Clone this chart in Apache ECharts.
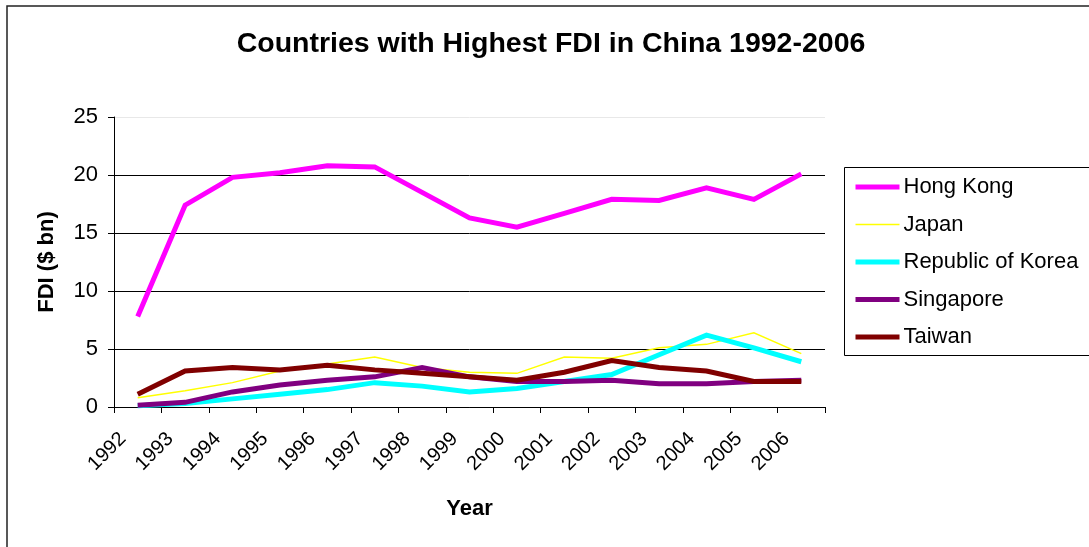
<!DOCTYPE html>
<html>
<head>
<meta charset="utf-8">
<script src="https://cdn.jsdelivr.net/npm/echarts@6/dist/echarts.min.js"></script>
<style>
  html, body { margin: 0; padding: 0; background: #fff; }
  #chart { width: 1089px; height: 547px; }
</style>
</head>
<body>
<div id="chart"></div>
<script>
// FDI into China by source economy, $ bn
const years = ['1992','1993','1994','1995','1996','1997','1998','1999','2000','2001','2002','2003','2004','2005','2006'];
const hongKong  = [7.8, 17.4, 19.8, 20.2, 20.8, 20.7, 18.5, 16.3, 15.5, 16.7, 17.9, 17.8, 18.9, 17.9, 20.1];
const japan     = [0.8, 1.4, 2.1, 3.1, 3.7, 4.3, 3.4, 3.0, 2.9, 4.3, 4.2, 5.1, 5.4, 6.4, 4.6];
const korea     = [0.1, 0.3, 0.7, 1.1, 1.5, 2.1, 1.8, 1.3, 1.6, 2.2, 2.8, 4.5, 6.2, 5.1, 3.9];
const singapore = [0.15, 0.4, 1.3, 1.9, 2.3, 2.6, 3.4, 2.6, 2.2, 2.2, 2.3, 2.0, 2.0, 2.2, 2.3];
const taiwan    = [1.1, 3.1, 3.4, 3.2, 3.6, 3.2, 2.9, 2.6, 2.3, 3.0, 4.0, 3.4, 3.1, 2.2, 2.2];
const yTicks    = [0, 5, 10, 15, 20, 25];

const FONT = "'Liberation Sans', Arial, sans-serif";

const seriesDefs = [
  { name: 'Hong Kong',         data: hongKong,  color: '#FF00FF', width: 5 },
  { name: 'Japan',             data: japan,     color: '#FFFF00', width: 1.5 },
  { name: 'Republic of Korea', data: korea,     color: '#00FFFF', width: 5 },
  { name: 'Singapore',         data: singapore, color: '#800080', width: 5 },
  { name: 'Taiwan',            data: taiwan,    color: '#800000', width: 5 }
];

const chart = echarts.init(document.getElementById('chart'), null, { renderer: 'canvas' });
chart.setOption({
  backgroundColor: '#fff',
  animation: false,
  graphic: [
    {
      // outer chart frame, running off the right and bottom of the page
      type: 'rect',
      shape: { x: 7, y: 6, width: 1100, height: 560 },
      style: { fill: 'none', stroke: '#222', lineWidth: 1.5 },
      z: -1
    },
    {
      // legend frame, running off the right edge
      type: 'rect',
      shape: { x: 844.5, y: 167.5, width: 300, height: 188 },
      style: { fill: 'none', stroke: '#000', lineWidth: 1 },
      z: 10
    }
  ],
  title: {
    text: 'Countries with Highest FDI in China 1992-2006',
    left: 546,
    top: 24,
    textAlign: 'center',
    textStyle: { fontFamily: FONT, fontSize: 28.5, fontWeight: 'bold', color: '#000', lineHeight: 30 }
  },
  grid: { left: 114, right: 264, top: 117, bottom: 140, containLabel: false },
  legend: {
    orient: 'vertical',
    left: 844,
    top: 167,
    padding: [7, 10, 5, 9],
    itemGap: 11.5,
    itemWidth: 44,
    itemHeight: 14,
    borderWidth: 0,
    itemStyle: { opacity: 0 },
    textStyle: { fontFamily: FONT, fontSize: 22, color: '#000', lineHeight: 26, padding: [0, 0, 0, -1] },
    data: seriesDefs.map(s => ({
      name: s.name,
      lineStyle: { color: s.color, width: s.width }
    }))
  },
  xAxis: {
    type: 'category',
    data: years,
    boundaryGap: true,
    name: 'Year',
    nameLocation: 'middle',
    nameGap: 91,
    nameTextStyle: { fontFamily: FONT, fontSize: 22, fontWeight: 'bold', color: '#000' },
    axisLine: { lineStyle: { color: '#000', width: 1 } },
    axisTick: { show: true, inside: false, length: 6, lineStyle: { color: '#000' } },
    axisLabel: {
      rotate: 45,
      margin: 14,
      padding: [0, 21, 0, 0],
      interval: 0,
      fontFamily: FONT,
      fontSize: 20,
      color: '#000'
    },
    splitLine: { show: false }
  },
  yAxis: {
    type: 'value',
    min: yTicks[0],
    max: yTicks[yTicks.length - 1],
    interval: 5,
    name: 'FDI ($ bn)',
    nameLocation: 'middle',
    nameGap: 56,
    nameTextStyle: { fontFamily: FONT, fontSize: 22, fontWeight: 'bold', color: '#000' },
    axisLine: { show: true, lineStyle: { color: '#000', width: 1 } },
    axisTick: { show: true, inside: false, length: 6, lineStyle: { color: '#000' } },
    axisLabel: { margin: 16, fontFamily: FONT, fontSize: 22, color: '#000' },
    splitLine: { show: true, lineStyle: { color: ['#000', '#000', '#000', '#000', '#000', '#e8e8e8'], width: 1 } }
  },
  series: seriesDefs.map(s => ({
    name: s.name,
    type: 'line',
    data: s.data,
    symbol: 'none',
    smooth: false,
    lineStyle: { color: s.color, width: s.width, join: 'miter', cap: 'butt' },
    itemStyle: { color: s.color }
  }))
});
</script>
</body>
</html>
